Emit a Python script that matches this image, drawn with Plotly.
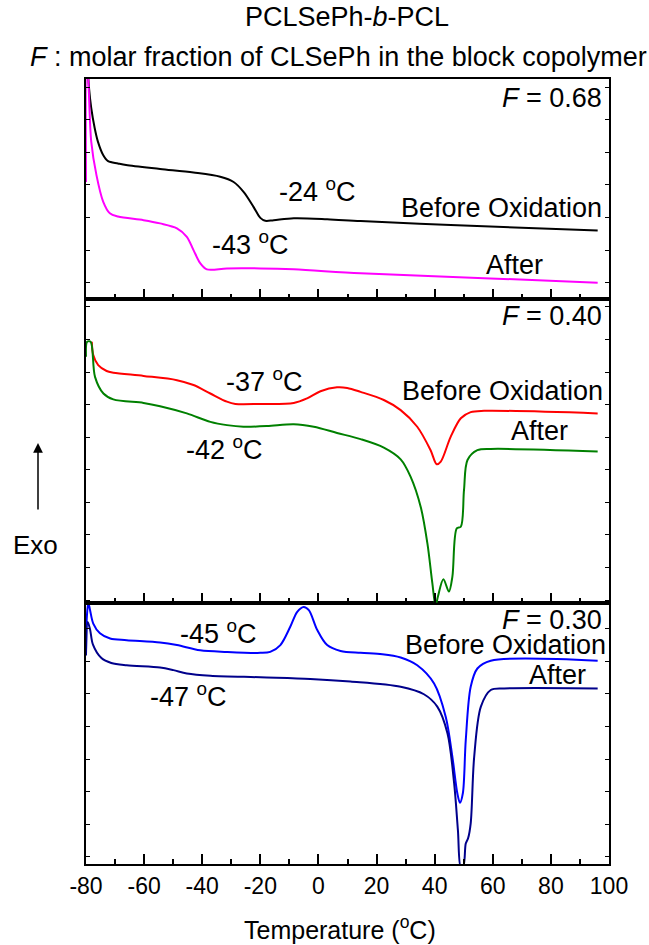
import plotly.graph_objects as go

# ---- DSC heating traces (heat flow in arbitrary units, exo up) ----
# F = 0.68
T_068_before = [-79.5, -79.0, -78.2, -77.0, -75.9, -74.1, -72.4, -69.0, -66.2, -54.5, -43.0, -33.8,
                -29.2, -25.7, -22.3, -20.0, -18.3, -15.4, -8.5, 3.0, 14.5, 45.5, 96.1]
Q_068_before = [7.2, 6.5, 5.85, 5.23, 4.82, 4.41, 4.22, 4.15, 4.10, 3.98, 3.87, 3.74,
                3.58, 3.27, 2.81, 2.48, 2.39, 2.41, 2.47, 2.44, 2.38, 2.26, 2.09]
T_068_after = [-80.0, -79.8, -79.3, -78.2, -76.4, -74.1, -71.8, -69.0, -60.2, -54.5, -48.7, -45.3,
               -43.0, -40.7, -38.4, -31.5, -20.0, -8.5, 14.5, 57.0, 96.1]
Q_068_after = [3.58, 7.2, 6.86, 4.82, 3.79, 2.98, 2.62, 2.52, 2.41, 2.31, 2.16, 1.90,
               1.49, 1.09, 0.90, 0.93, 0.93, 0.90, 0.78, 0.63, 0.49]

# F = 0.40
T_040_before = [-78.0, -77.5, -75.8, -72.9, -70.6, -60.2, -48.7, -43.0, -37.2, -31.5, -28.6, -20.0,
                -8.5, -3.9, 0.7, 6.4, 9.9, 14.5, 22.5, 28.3, 34.0, 38.6, 40.7, 42.1, 45.5, 49.0,
                52.4, 57.0, 96.1]
Q_040_before = [8.01, 7.60, 7.29, 7.11, 7.06, 6.96, 6.83, 6.68, 6.42, 6.17, 6.10, 6.10,
                6.13, 6.27, 6.49, 6.61, 6.59, 6.47, 6.22, 5.91, 5.40, 4.68, 4.25, 4.33, 5.09, 5.66,
                5.85, 5.89, 5.81]
T_040_after = [-80.0, -79.6, -78.4, -76.9, -74.0, -70.6, -60.2, -54.5, -45.3, -37.2, -31.5, -25.8,
               -17.7, -8.5, -1.6, 6.4, 14.5, 22.5, 28.3, 31.7, 35.2, 37.5, 39.2, 40.3, 41.1, 43.0,
               44.9, 46.1, 47.6, 49.0, 50.1, 51.3, 54.7, 59.3, 96.1]
Q_040_after = [7.55, 8.01, 8.01, 6.93, 6.42, 6.24, 6.13, 6.03, 5.81, 5.55, 5.45, 5.40,
               5.42, 5.48, 5.40, 5.21, 5.02, 4.76, 4.40, 3.87, 2.94, 1.82, 0.60, -0.10, 0.18, 0.72,
               0.34, 0.80, 2.28, 2.33, 3.46, 4.38, 4.68, 4.72, 4.64]

# F = 0.30
T_030_before = [-80.0, -79.7, -79.2, -78.6, -77.5, -75.2, -71.7, -66.0, -54.5, -48.7, -40.7, -31.5,
                -20.0, -16.6, -13.1, -9.7, -7.3, -5.1, -3.3, -0.4, 3.0, 7.6, 14.5, 22.0, 28.3, 34.0,
                39.8, 43.8, 46.1, 47.8, 48.7, 49.7, 50.7, 52.4, 54.7, 59.3, 96.1]
Q_030_before = [6.51, 7.6, 8.02, 7.79, 7.38, 7.08, 6.92, 6.87, 6.80, 6.72, 6.56, 6.51,
                6.48, 6.51, 6.72, 7.28, 7.74, 7.89, 7.79, 7.18, 6.72, 6.54, 6.48, 6.44, 6.34, 6.10,
                5.54, 4.52, 3.29, 2.17, 1.88, 2.17, 3.80, 5.44, 6.00, 6.24, 6.24]
T_030_after = [-80.0, -79.4, -78.6, -77.6, -74.7, -71.3, -66.0, -54.5, -49.9, -45.3, -37.2, -20.0,
               -2.8, 11.0, 28.3, 36.3, 40.9, 44.4, 46.7, 48.0, 49.0, 49.9, 50.7, 51.5, 52.4,
               53.6, 55.9, 59.3, 63.9, 96.1]
Q_030_after = [6.40, 7.43, 7.20, 6.73, 6.32, 6.17, 6.10, 6.03, 5.95, 5.85, 5.78, 5.73,
               5.68, 5.60, 5.44, 5.21, 4.83, 4.01, 2.48, 1.04, -0.10, -0.05, 0.63, 0.79, 1.25,
               3.29, 4.83, 5.34, 5.39, 5.39]

# temperature axis ticks
TICK_T = [-80, -60, -40, -20, 0, 20, 40, 60, 80, 100]
TICK_LABELS = ["-80", "-60", "-40", "-20", "0", "20", "40", "60", "80", "100"]
MINOR_T = [-70, -50, -30, -10, 10, 30, 50, 70, 90]

FONT = "Liberation Sans, Arial, sans-serif"

fig = go.Figure()

traces = [
    (T_068_before, Q_068_before, "#000000", "x3", "y3"),
    (T_068_after, Q_068_after, "#FF00FF", "x3", "y3"),
    (T_040_before, Q_040_before, "#FF0000", "x2", "y2"),
    (T_040_after, Q_040_after, "#008000", "x2", "y2"),
    (T_030_before, Q_030_before, "#0000FF", "x", "y"),
    (T_030_after, Q_030_after, "#00008B", "x", "y"),
]
for tx, qy, col, xa, ya in traces:
    fig.add_trace(go.Scatter(x=tx, y=qy, mode="lines", xaxis=xa, yaxis=ya,
                             line=dict(color=col, width=2, shape="spline", smoothing=0.9),
                             showlegend=False, hoverinfo="skip"))

H = 785.0
d_bot = 261.3 / H
d_mid = (261.3 + 304.0) / H

xcommon = dict(range=[-80, 100], showline=True, linewidth=2, linecolor="black", mirror=True,
               ticks="inside", ticklen=10, tickwidth=1.5, tickcolor="black",
               tickmode="array", tickvals=TICK_T, ticktext=TICK_LABELS,
               showgrid=False, zeroline=False,
               minor=dict(ticks="inside", ticklen=5, tickwidth=1.5, tickcolor="black",
                          tickmode="array", tickvals=MINOR_T),
               tickfont=dict(family=FONT, size=23, color="black"))
ycommon = dict(showline=True, linewidth=2, linecolor="black", mirror="ticks",
               ticks="inside", ticklen=4, tickwidth=1.2, tickcolor="black", dtick=1,
               showticklabels=False, showgrid=False, zeroline=False)

fig.update_layout(
    width=649, height=945,
    margin=dict(l=86, r=40, t=79, b=81),
    paper_bgcolor="white", plot_bgcolor="white",
    font=dict(family=FONT, color="black"),
    xaxis=dict(**xcommon, anchor="y", domain=[0, 1]),
    xaxis2=dict(**xcommon, anchor="y2", domain=[0, 1], matches="x", showticklabels=False),
    xaxis3=dict(**xcommon, anchor="y3", domain=[0, 1], matches="x", showticklabels=False),
    yaxis=dict(**ycommon, domain=[0, d_bot], range=[0, 8.02], tick0=0.22, anchor="x"),
    yaxis2=dict(**ycommon, domain=[d_bot, d_mid], range=[0, 9.33], tick0=0.08, anchor="x2"),
    yaxis3=dict(**ycommon, domain=[d_mid, 1], range=[0, 6.74], tick0=0.49, anchor="x3"),
)

FS = 27
ann = []


def label(text, x, y, xa, ya, xanchor="left"):
    ann.append(dict(text=text, x=x, y=y, xref=xa, yref=ya, xanchor=xanchor, yanchor="middle",
                    showarrow=False, font=dict(family=FONT, size=FS, color="black")))


deg = " <sup>o</sup>C"
# F = 0.68 panel
label("<i>F</i> = 0.68", 98.3, 6.16, "x3", "y3", "right")
label("-24" + deg, -14.1, 3.33, "x3", "y3")
label("Before Oxidation", 98.3, 2.78, "x3", "y3", "right")
label("-43" + deg, -37.2, 1.71, "x3", "y3")
label("After", 56.9, 1.03, "x3", "y3")
# F = 0.40 panel
label("<i>F</i> = 0.40", 98.3, 8.79, "x2", "y2", "right")
label("-37" + deg, -32.4, 6.83, "x2", "y2")
label("Before Oxidation", 98.6, 6.49, "x2", "y2", "right")
label("After", 65.5, 5.27, "x2", "y2")
label("-42" + deg, -46.2, 4.75, "x2", "y2")
# F = 0.30 panel
label("<i>F</i> = 0.30", 98.3, 7.48, "x", "y", "right")
label("-45" + deg, -48.3, 7.12, "x", "y")
label("Before Oxidation", 99.7, 6.72, "x", "y", "right")
label("After", 71.7, 5.80, "x", "y")
label("-47" + deg, -58.6, 5.18, "x", "y")

# titles, axis title, exo marker
ann.append(dict(text="PCLSePh-<i>b</i>-PCL", x=0.499, y=(864 - 17) / H, xref="paper", yref="paper",
                xanchor="center", yanchor="middle", showarrow=False,
                font=dict(family=FONT, size=FS, color="black")))
ann.append(dict(text="<i>F</i> : molar fraction of CLSePh in the block copolymer", x=0.482,
                y=(864 - 57) / H, xref="paper", yref="paper", xanchor="center", yanchor="middle",
                showarrow=False, font=dict(family=FONT, size=FS, color="black")))
ann.append(dict(text="Temperature (<sup>o</sup>C)", x=(340 - 86) / 523.0, y=(864 - 928) / H,
                xref="paper", yref="paper", xanchor="center", yanchor="middle", showarrow=False,
                font=dict(family=FONT, size=25, color="black")))
ann.append(dict(text="Exo", x=(35 - 86) / 523.0, y=(864 - 545) / H, xref="paper", yref="paper",
                xanchor="center", yanchor="middle", showarrow=False,
                font=dict(family=FONT, size=26, color="black")))
ann.append(dict(text="", x=(38 - 86) / 523.0, y=(864 - 443) / H, xref="paper", yref="paper",
                ax=0, ay=68, axref="pixel", ayref="pixel", showarrow=True, arrowhead=2,
                arrowsize=1.3, arrowwidth=1.5, arrowcolor="black"))

fig.update_layout(annotations=ann)
fig.write_html("out.html")
